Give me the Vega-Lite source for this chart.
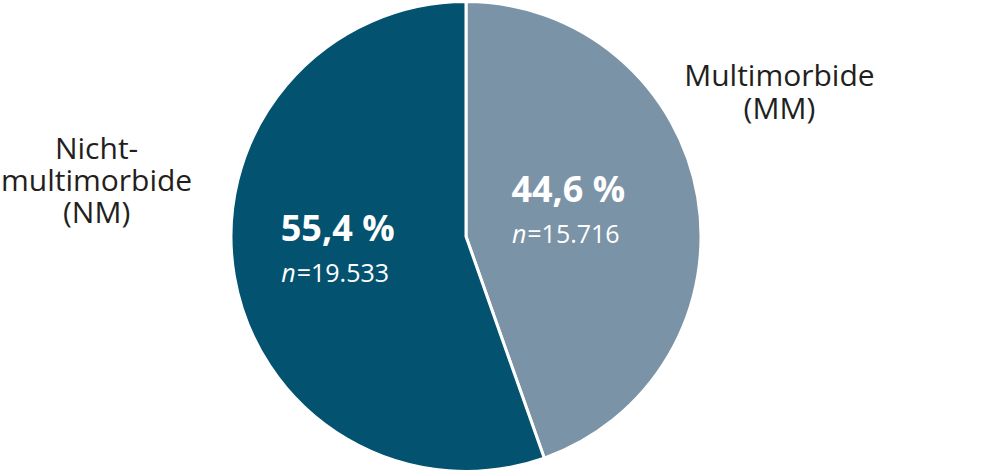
{
  "$schema": "https://vega.github.io/schema/vega-lite/v6.json",
  "width": 1004,
  "height": 473,
  "autosize": {"type": "fit", "contains": "padding"},
  "padding": {"left": 0, "right": 72, "top": 1, "bottom": 1},
  "background": "white",
  "data": {
    "values": [
      {"kurz": "MM", "gruppe": "Multimorbide\n(MM)", "anteil": 0.446, "n": 15716},
      {"kurz": "NM", "gruppe": "Nicht-\nmultimorbide\n(NM)", "anteil": 0.554, "n": 19533}
    ]
  },
  "encoding": {
    "theta": {"field": "anteil", "type": "quantitative", "stack": true},
    "order": {"field": "kurz", "type": "ordinal", "sort": "ascending"}
  },
  "layer": [
    {
      "mark": {"type": "arc", "stroke": "white", "strokeWidth": 3, "outerRadius": 235},
      "encoding": {
        "color": {
          "field": "kurz",
          "type": "nominal",
          "scale": {"domain": ["MM", "NM"], "range": ["#7b93a7", "#03526f"]},
          "legend": null
        }
      }
    },
    {
      "mark": {"type": "text", "radius": 117, "dx": -13, "dy": -26, "font": "Open Sans", "fontSize": 36, "fontWeight": "bold", "fill": "white", "baseline": "middle", "align": "center"},
      "encoding": {"text": {"field": "anteil", "type": "quantitative", "format": ".1%"}}
    },
    {
      "mark": {"type": "text", "radius": 117, "dx": -55, "dy": 18, "font": "Open Sans", "fontSize": 25, "fontStyle": "italic", "fill": "white", "baseline": "middle", "align": "right"},
      "encoding": {"text": {"value": "n"}}
    },
    {
      "mark": {"type": "text", "radius": 117, "dx": -54, "dy": 18, "font": "Open Sans", "fontSize": 25, "fill": "white", "baseline": "middle", "align": "left"},
      "encoding": {"text": {"field": "n", "type": "quantitative", "format": "$,d"}}
    },
    {
      "mark": {"type": "text", "radius": 320, "dx": -2, "dy": -105, "font": "Open Sans", "fontSize": 30, "fill": "#231f20", "baseline": "middle", "align": "center", "lineBreak": "\n", "lineHeight": 33},
      "encoding": {
        "text": {"condition": {"test": "datum.kurz === 'MM'", "field": "gruppe", "type": "nominal"}, "value": ""}
      }
    },
    {
      "mark": {"type": "text", "radius": 320, "dx": -54, "dy": -141, "font": "Open Sans", "fontSize": 30, "fill": "#231f20", "baseline": "middle", "align": "center", "lineBreak": "\n", "lineHeight": 32},
      "encoding": {
        "text": {"condition": {"test": "datum.kurz === 'NM'", "field": "gruppe", "type": "nominal"}, "value": ""}
      }
    }
  ],
  "config": {
    "view": {"stroke": null},
    "locale": {
      "number": {"decimal": ",", "thousands": ".", "grouping": [3], "currency": ["=", ""], "percent": " %"}
    }
  }
}
